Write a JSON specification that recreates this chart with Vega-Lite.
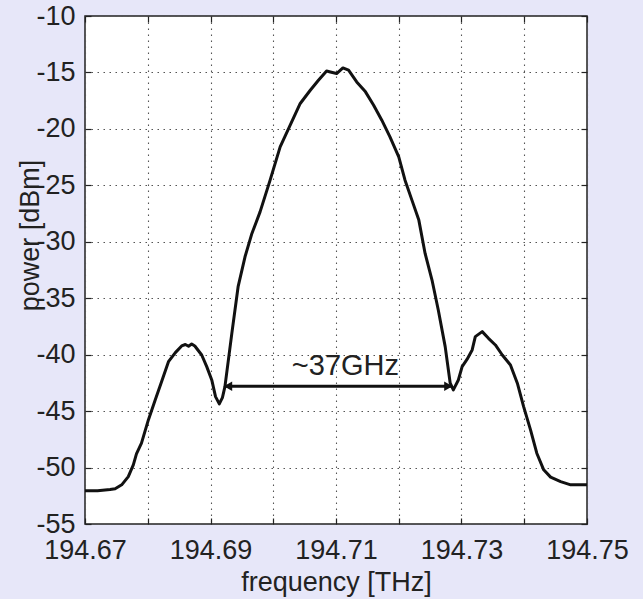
{
  "$schema": "https://vega.github.io/schema/vega-lite/v6.json",
  "width": 502,
  "height": 508,
  "autosize": {"type": "none"},
  "padding": {"left": 85, "top": 16, "right": 56, "bottom": 75},
  "background": "#e7e7f9",
  "config": {
    "view": {"fill": "white", "stroke": "#222222", "strokeWidth": 1.5},
    "font": "Liberation Sans",
    "axis": {
      "domain": false,
      "labelFont": "Liberation Sans",
      "titleFont": "Liberation Sans",
      "labelColor": "#222222",
      "titleColor": "#222222",
      "labelFontSize": 27,
      "titleFontSize": 27,
      "titleFontWeight": "normal",
      "tickColor": "#222222",
      "tickSize": -6,
      "tickWidth": 1.2,
      "gridColor": "#555555",
      "gridDash": [1.5, 4.5],
      "gridWidth": 1.1,
      "gridOpacity": 1
    }
  },
  "datasets": {
    "spectrum": [
      {"f": 194.6700, "P": -52.05},
      {"f": 194.6720, "P": -52.05},
      {"f": 194.6740, "P": -51.95},
      {"f": 194.6748, "P": -51.88},
      {"f": 194.67585, "P": -51.53},
      {"f": 194.6769, "P": -50.8},
      {"f": 194.6777, "P": -49.76},
      {"f": 194.6782, "P": -48.79},
      {"f": 194.6790, "P": -47.84},
      {"f": 194.6801, "P": -45.78},
      {"f": 194.6812, "P": -44.0},
      {"f": 194.6822, "P": -42.39},
      {"f": 194.6833, "P": -40.62},
      {"f": 194.6844, "P": -39.82},
      {"f": 194.6854, "P": -39.23},
      {"f": 194.6860, "P": -39.1},
      {"f": 194.6865, "P": -39.25},
      {"f": 194.6870, "P": -39.05},
      {"f": 194.6875, "P": -39.23},
      {"f": 194.6886, "P": -40.03},
      {"f": 194.6894, "P": -41.06},
      {"f": 194.6902, "P": -42.24},
      {"f": 194.6908, "P": -43.72},
      {"f": 194.6914, "P": -44.36},
      {"f": 194.6919, "P": -43.8},
      {"f": 194.6923, "P": -42.83},
      {"f": 194.6934, "P": -38.11},
      {"f": 194.6944, "P": -33.98},
      {"f": 194.6955, "P": -31.33},
      {"f": 194.6966, "P": -29.26},
      {"f": 194.6979, "P": -27.35},
      {"f": 194.6995, "P": -24.54},
      {"f": 194.7011, "P": -21.59},
      {"f": 194.7027, "P": -19.67},
      {"f": 194.7043, "P": -17.75},
      {"f": 194.7059, "P": -16.58},
      {"f": 194.7072, "P": -15.69},
      {"f": 194.7085, "P": -14.87},
      {"f": 194.7091, "P": -14.96},
      {"f": 194.7101, "P": -15.1},
      {"f": 194.7111, "P": -14.6},
      {"f": 194.7120, "P": -14.8},
      {"f": 194.7133, "P": -15.84},
      {"f": 194.7147, "P": -16.72},
      {"f": 194.7160, "P": -17.9},
      {"f": 194.7173, "P": -19.23},
      {"f": 194.7186, "P": -20.7},
      {"f": 194.7200, "P": -22.48},
      {"f": 194.7210, "P": -24.54},
      {"f": 194.7221, "P": -26.31},
      {"f": 194.7232, "P": -28.08},
      {"f": 194.7242, "P": -31.03},
      {"f": 194.7253, "P": -33.39},
      {"f": 194.7263, "P": -36.04},
      {"f": 194.7274, "P": -39.29},
      {"f": 194.7282, "P": -42.53},
      {"f": 194.7287, "P": -43.12},
      {"f": 194.7295, "P": -42.24},
      {"f": 194.7301, "P": -41.06},
      {"f": 194.7309, "P": -40.4},
      {"f": 194.7317, "P": -39.58},
      {"f": 194.7322, "P": -38.4},
      {"f": 194.7333, "P": -37.96},
      {"f": 194.7343, "P": -38.55},
      {"f": 194.7354, "P": -39.14},
      {"f": 194.7365, "P": -40.03},
      {"f": 194.7378, "P": -40.91},
      {"f": 194.7389, "P": -42.53},
      {"f": 194.7399, "P": -44.6},
      {"f": 194.7410, "P": -46.66},
      {"f": 194.7420, "P": -48.73},
      {"f": 194.7431, "P": -50.2},
      {"f": 194.7442, "P": -50.85},
      {"f": 194.7458, "P": -51.24},
      {"f": 194.7474, "P": -51.53},
      {"f": 194.7500, "P": -51.53}
    ],
    "arrow": [
      {"f1": 194.6922, "f2": 194.7285, "P": -42.8}
    ],
    "heads": [
      {"f": 194.6928, "P": -42.8, "dir": "left"},
      {"f": 194.7279, "P": -42.8, "dir": "right"}
    ],
    "label": [
      {"f": 194.7115, "P": -41.8, "text": "~37GHz"}
    ]
  },
  "layer": [
    {
      "data": {"name": "spectrum"},
      "mark": {"type": "line", "color": "#111111", "strokeWidth": 3, "strokeJoin": "round", "clip": true},
      "encoding": {
        "x": {
          "field": "f", "type": "quantitative",
          "scale": {"domain": [194.67, 194.75], "nice": false, "zero": false},
          "axis": {
            "orient": "bottom",
            "title": "frequency [THz]",
            "values": [194.67, 194.68, 194.69, 194.70, 194.71, 194.72, 194.73, 194.74, 194.75],
            "format": ".2f",
            "labelExpr": "round(datum.value*100) % 2 == 1 ? datum.label : ''",
            "labelPadding": 19,
            "labelFlush": false,
            "labelOverlap": false,
            "grid": true,
            "titleY": 66,
            "titleBaseline": "alphabetic"
          }
        },
        "y": {
          "field": "P", "type": "quantitative",
          "scale": {"domain": [-55, -10], "nice": false, "zero": false},
          "axis": {
            "orient": "left",
            "title": "power [dBm]",
            "values": [-55, -50, -45, -40, -35, -30, -25, -20, -15, -10],
            "labelExpr": "'-' + abs(datum.value)",
            "labelPadding": 16,
            "labelFlush": false,
            "labelOverlap": false,
            "grid": true,
            "titleAngle": -90,
            "titleAlign": "center",
            "titleBaseline": "alphabetic",
            "titleX": -47,
            "titleY": 219
          }
        }
      }
    },
    {
      "data": {"name": "arrow"},
      "mark": {"type": "rule", "color": "#111111", "strokeWidth": 3},
      "encoding": {
        "x": {
          "field": "f1", "type": "quantitative",
          "axis": {
            "orient": "top", "title": null, "labels": false, "grid": false,
            "values": [194.67, 194.68, 194.69, 194.70, 194.71, 194.72, 194.73, 194.74, 194.75]
          }
        },
        "x2": {"field": "f2"},
        "y": {
          "field": "P", "type": "quantitative",
          "axis": {
            "orient": "right", "title": null, "labels": false, "grid": false,
            "values": [-55, -50, -45, -40, -35, -30, -25, -20, -15, -10]
          }
        }
      }
    },
    {
      "data": {"name": "heads"},
      "transform": [{"filter": "datum.dir == 'left'"}],
      "mark": {"type": "point", "shape": "triangle-left", "filled": true, "color": "#111111", "size": 90, "opacity": 1},
      "encoding": {
        "x": {"field": "f", "type": "quantitative", "axis": null},
        "y": {"field": "P", "type": "quantitative", "axis": null}
      }
    },
    {
      "data": {"name": "heads"},
      "transform": [{"filter": "datum.dir == 'right'"}],
      "mark": {"type": "point", "shape": "triangle-right", "filled": true, "color": "#111111", "size": 90, "opacity": 1},
      "encoding": {
        "x": {"field": "f", "type": "quantitative", "axis": null},
        "y": {"field": "P", "type": "quantitative", "axis": null}
      }
    },
    {
      "data": {"name": "label"},
      "mark": {"type": "text", "font": "Liberation Sans", "fontSize": 29, "color": "#222222", "baseline": "alphabetic", "align": "center"},
      "encoding": {
        "x": {"field": "f", "type": "quantitative", "axis": null},
        "y": {"field": "P", "type": "quantitative", "axis": null},
        "text": {"field": "text"}
      }
    }
  ],
  "resolve": {"axis": {"x": "independent", "y": "independent"}}
}
